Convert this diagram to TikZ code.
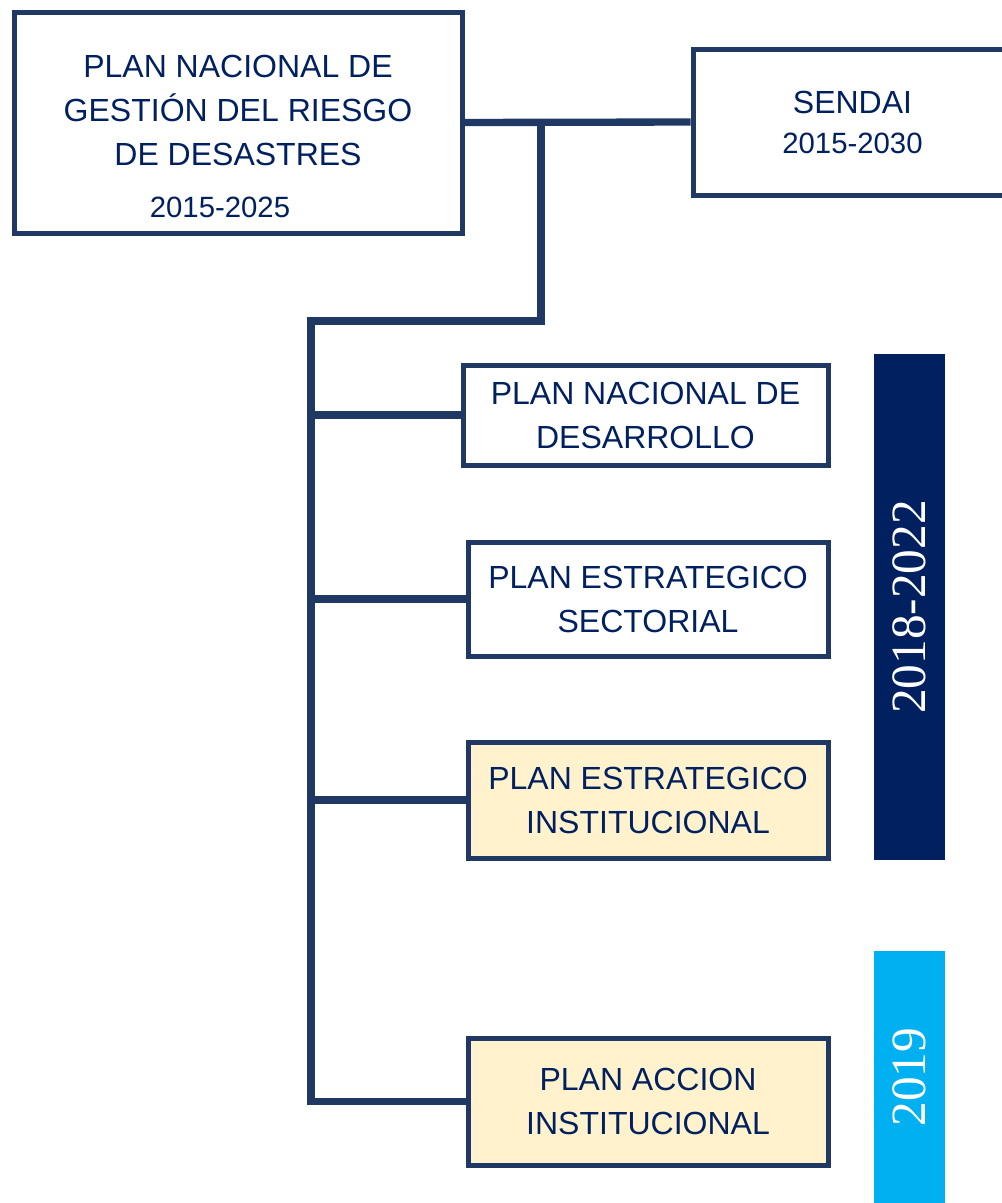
\documentclass[tikz,border=0pt]{standalone}
\usepackage{fontspec}
\setmainfont{Liberation Sans}
\newfontfamily\yearfont{Liberation Serif}
\definecolor{linenavy}{HTML}{203864}
\definecolor{textnavy}{HTML}{002060}
\definecolor{planfill}{HTML}{FFF2CC}
\definecolor{yearblue}{HTML}{00B0F0}
\newcommand{\datefont}{\fontsize{22}{26}\selectfont}
\tikzset{
  font=\fontsize{24}{33}\selectfont,
  box/.style={
    draw=linenavy,
    line width=3.75pt,
    fill=white,
    text=textnavy,
    align=center,
    inner sep=0pt
  },
  plan/.style={
    box,
    minimum width=270pt
  },
  inst/.style={
    plan,
    fill=planfill
  },
  yearbar/.style={
    rotate=90,
    minimum height=53.25pt,
    text=white,
    inner sep=0pt,
    font=\yearfont\fontsize{37}{40}\selectfont
  },
  link/.style={draw=linenavy, line width=5.5pt}
}

\begin{document}
\begin{tikzpicture}[x=0.75pt, y=-0.75pt]
\useasboundingbox (0,0) rectangle (1002,1203);

\node[box, minimum width=336pt, minimum height=165.75pt] (pngrd) at (238,122.5) {\rule{0pt}{38pt}PLAN NACIONAL DE\\GESTIÓN DEL RIESGO\\DE DESASTRES\\[6pt]{\datefont 2015-2025\hspace*{27pt}}};
\node[box, minimum width=239.25pt, minimum height=109.5pt] (sendai) at (852.5,122) {SENDAI\\[-3pt]{\datefont 2015-2030}};

% plans under the national plan
\node[plan, minimum width=273.75pt, minimum height=75pt] (pnd) at (645.5,415) {PLAN NACIONAL DE\\DESARROLLO};
\node[plan, minimum height=85.5pt] (pes) at (648,599) {PLAN ESTRATEGICO\\SECTORIAL};
\node[inst, minimum height=87pt] (pei) at (648,800) {PLAN ESTRATEGICO\\INSTITUCIONAL};
\node[inst, minimum height=95.25pt] (pai) at (648,1101.5) {PLAN ACCION\\INSTITUCIONAL};

% periods
\node[yearbar, fill=textnavy, minimum width=379.5pt] (term) at (909.5,607) {2018-2022};
\node[yearbar, fill=yearblue, minimum width=189pt] (year) at (909.5,1077) {2019};

% connectors
\coordinate (split) at (541,122.5);
\coordinate (trunk) at (311,321);
\draw[link] (pngrd.east) -- (sendai.west);
\draw[link] (split) |- (trunk) -- (trunk |- pai.west) -- (pai.west);
\draw[link] (trunk |- pnd.west) -- (pnd.west);
\draw[link] (trunk |- pes.west) -- (pes.west);
\draw[link] (trunk |- pei.west) -- (pei.west);

\end{tikzpicture}
\end{document}
